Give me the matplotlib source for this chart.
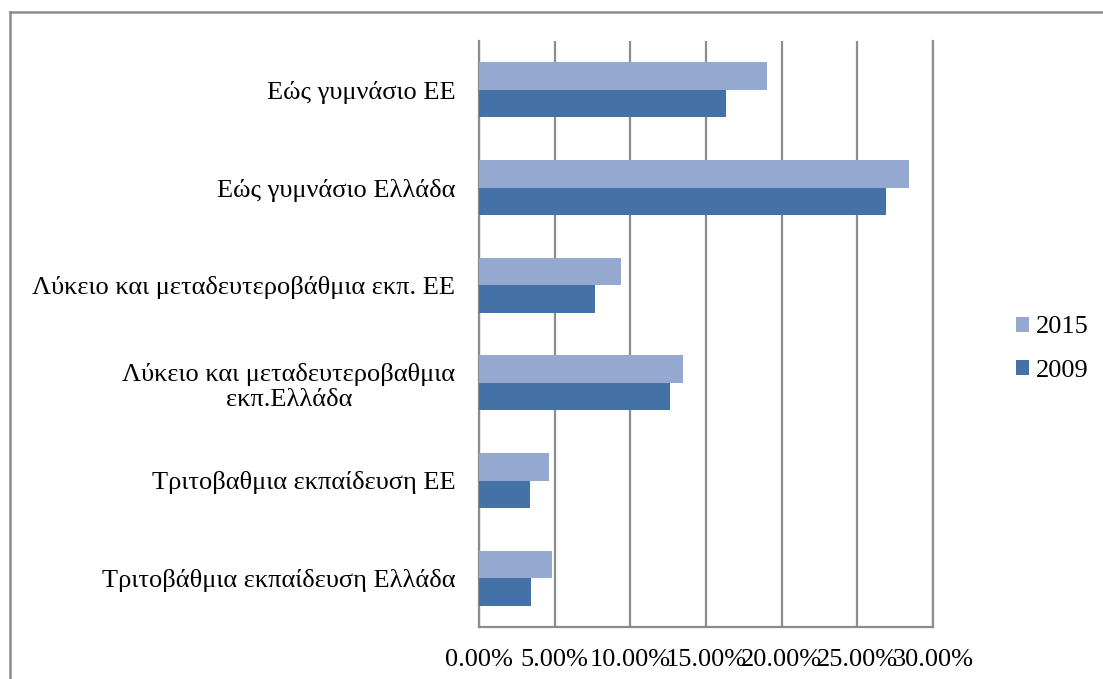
import matplotlib
matplotlib.use('Agg')
import matplotlib.pyplot as plt
from matplotlib.lines import Line2D
import numpy as np

plt.rcParams['font.family'] = ['Liberation Serif', 'DejaVu Serif']

categories = ['Εώς γυμνάσιο ΕΕ',
              'Εώς γυμνάσιο Ελλάδα',
              'Λύκειο και μεταδευτεροβάθμια εκπ. ΕΕ',
              'Λύκειο και μεταδευτεροβαθμια\nεκπ.Ελλάδα',
              'Τριτοβαθμια εκπαίδευση ΕΕ',
              'Τριτοβάθμια εκπαίδευση Ελλάδα']
vals_2015 = [19.0, 28.4, 9.4, 13.5, 4.6, 4.8]
vals_2009 = [16.3, 26.9, 7.65, 12.6, 3.4, 3.45]
xticks = [0, 5, 10, 15, 20, 25, 30]

W, H = 1103, 679
fig = plt.figure(figsize=(W / 100, H / 100), dpi=100)
ax = fig.add_axes([479 / W, 1 - 627 / H, (933 - 479) / W, (627 - 41) / H])

y = np.arange(len(categories))
h = 0.282
ax.barh(y - h / 2, vals_2015, height=h, color='#95A9D0', label='2015', zorder=3)
ax.barh(y + h / 2, vals_2009, height=h, color='#4472A6', label='2009', zorder=3)

ax.set_ylim(len(categories) - 0.5, -0.5)
ax.set_xlim(0, 30)
ax.set_xticks(xticks)
ax.set_xticklabels(['{:.2f}%'.format(t) for t in xticks])
ax.set_yticks(y)
ax.set_yticklabels(categories)
for lab in ax.get_yticklabels():
    lab.set_multialignment('center')

ax.grid(axis='x', color='#8c8c8c', linewidth=1.6, zorder=1)
ax.tick_params(axis='both', length=0, labelsize=19)
ax.tick_params(axis='y', pad=17)
ax.tick_params(axis='x', pad=16)
for s in ['left', 'bottom', 'right']:
    ax.spines[s].set_color('#8c8c8c')
    ax.spines[s].set_linewidth(1.6)
ax.spines['top'].set_visible(False)

leg = fig.legend(loc='center left', bbox_to_anchor=(1016 / W, 1 - 349 / H),
                 frameon=False, fontsize=19, handlelength=0.5, handleheight=0.5,
                 handletextpad=0.25, labelspacing=0.8, borderpad=0, borderaxespad=0)

# outer frame
bx, by = 9.5 / W, 1 - 11.5 / H
fig.add_artist(Line2D([bx, bx], [0, by], color='#8c8c8c', lw=1.8))
fig.add_artist(Line2D([bx, 1], [by, by], color='#8c8c8c', lw=1.8))

fig.savefig('out.png', dpi=100)
